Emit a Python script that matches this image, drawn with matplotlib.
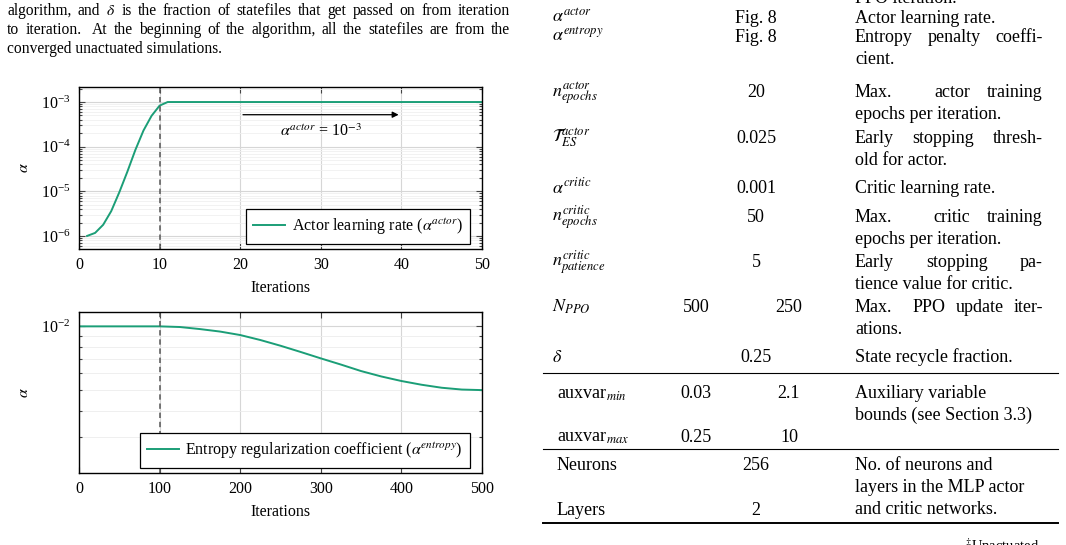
import matplotlib
matplotlib.use("Agg")
import matplotlib.pyplot as plt
from matplotlib.lines import Line2D
from matplotlib.ticker import FixedLocator, LogLocator, NullFormatter

plt.rcParams["font.family"] = "serif"
plt.rcParams["font.serif"] = ["Liberation Serif", "DejaVu Serif"]
plt.rcParams["mathtext.fontset"] = "stix"

W, H = 1066, 545
GREEN = "#1b9e77"

# actor learning rate schedule
actor_iters = [1, 2, 3, 4, 5, 6, 7, 8, 9, 10, 11, 50]
actor_lr = [1.0e-6, 1.17e-6, 1.78e-6, 3.6e-6, 9.5e-6, 2.75e-5, 8.5e-5,
            2.3e-4, 4.9e-4, 8.3e-4, 1.0e-3, 1.0e-3]

# entropy regularization coefficient schedule
entropy_iters = [0, 100, 125, 150, 175, 200, 225, 250, 275, 300, 325, 350,
                 375, 400, 425, 450, 475, 500]
entropy_coef = [1.0e-2, 1.0e-2, 9.93e-3, 9.71e-3, 9.45e-3, 9.10e-3, 8.62e-3,
                8.10e-3, 7.57e-3, 7.06e-3, 6.60e-3, 6.15e-3, 5.80e-3, 5.52e-3,
                5.30e-3, 5.13e-3, 5.03e-3, 5.0e-3]

para_lines = [
    r"algorithm, and $\delta$ is the fraction of statefiles that get passed on from iteration",
    "to iteration. At the beginning of the algorithm, all the statefiles are from the",
    "converged unactuated simulations.",
]

row_symbols = [r"$\alpha^{actor}$", r"$\alpha^{entropy}$", r"$n^{actor}_{epochs}$",
               r"$\mathcal{T}^{actor}_{ES}$", r"$\alpha^{critic}$", r"$n^{critic}_{epochs}$",
               r"$n^{critic}_{patience}$", r"$N_{PPO}$", r"$\delta$",
               r"auxvar$_{min}$", r"auxvar$_{max}$", "Neurons", "Layers"]
row_values = ["Fig. 8", "Fig. 8", "20", "0.025", "0.001", "50", "5", ("500", "250"),
              "0.25", ("0.03", "2.1"), ("0.25", "10"), "256", "2"]
row_notes = ["Actor learning rate.",
             "Entropy penalty coeffi-|cient.",
             "Max. actor training|epochs per iteration.",
             "Early stopping thresh-|old for actor.",
             "Critic learning rate.",
             "Max. critic training|epochs per iteration.",
             "Early stopping pa-|tience value for critic.",
             "Max. PPO update iter-|ations.",
             "State recycle fraction.",
             "Auxiliary variable|bounds (see Section 3.3)",
             "",
             "No. of neurons and|layers in the MLP actor|and critic networks.",
             ""]
ragged_notes = [9, 11]
row_baselines = [22.7, 41.7, 96.7, 142.7, 193.3, 221.7, 266.7, 311.7, 361.7,
                 398.3, 441.7, 470, 515]
rule_y = [373, 449, 523]

fig = plt.figure(figsize=(W / 100, H / 100), dpi=100)
renderer = fig.canvas.get_renderer()


def put_text(x0, y, s, size, x1=None, ha="left"):
    if x1 is None:
        return fig.text(x0 / W, 1 - y / H, s, fontsize=size, va="baseline", ha=ha)
    # justify like TeX: spaces after a full stop stretch three times as much
    words = s.split()
    arts = [fig.text(0, 1 - y / H, w, fontsize=size, va="baseline") for w in words]
    widths = [a.get_window_extent(renderer).width for a in arts]
    weights = [3 if w.endswith(".") else 1 for w in words[:-1]]
    natural = 0.25 * size * 100 / 72
    extra = max(x1 - x0 - sum(widths) - natural * len(weights), 0)
    x = x0
    for k, (a, w) in enumerate(zip(arts, widths)):
        a.set_x(x / W)
        if k < len(weights):
            x += w + natural + extra * weights[k] / sum(weights)


def style_axes(ax):
    ax.tick_params(which="both", direction="in", top=True, right=True,
                   color="#444444", width=0.8, labelsize=11.5)
    ax.tick_params(which="major", length=4, pad=6)
    ax.tick_params(which="minor", length=2.5)
    for s in ax.spines.values():
        s.set_linewidth(1.0)
    ax.yaxis.set_minor_formatter(NullFormatter())
    ax.set_axisbelow(True)


# top panel: actor learning rate
ax1 = fig.add_axes([79 / W, 1 - 249 / H, 403 / W, 162 / H])
ax1.plot(actor_iters, actor_lr, color=GREEN, lw=1.4, label=r"Actor learning rate ($\alpha^{actor}$)")
ax1.set_yscale("log")
ax1.set_xlim(0, 50)
ax1.set_ylim(5.1e-7, 2.17e-3)
ax1.set_xticks([0, 10, 20, 30, 40, 50])
ax1.yaxis.set_major_locator(LogLocator(base=10, numticks=10))
ax1.yaxis.set_minor_locator(LogLocator(base=10, subs=range(2, 10), numticks=20))
ax1.grid(which="major", color="#d6d6d6", lw=0.8)
ax1.grid(which="minor", axis="y", color="#f0f0f0", lw=0.6)
ax1.axvline(10, color="#555555", lw=1.1, ls=(0, (3.5, 2.5)))
ax1.annotate("", xy=(40, 5.2e-4), xytext=(20, 5.2e-4),
             arrowprops=dict(arrowstyle="-|>", color="black", lw=0.9, mutation_scale=9))
ax1.text(30, 2.17e-4, r"$\alpha^{actor}$ = 10$^{-3}$", ha="center", va="center", fontsize=11.5)
ax1.legend(loc="lower right", bbox_to_anchor=(0.970, 0.031), borderaxespad=0,
           fancybox=False, edgecolor="black", framealpha=1, fontsize=11.5,
           handlelength=2.0, handletextpad=0.4, borderpad=0.45).get_frame().set_linewidth(0.9)
ax1.set_xlabel("Iterations", fontsize=11.5)
ax1.set_ylabel(r"$\alpha$", fontsize=11.5)
ax1.xaxis.set_label_coords(0.5, -0.19)
ax1.yaxis.set_label_coords(-0.117, 0.5)
style_axes(ax1)

# bottom panel: entropy coefficient
ax2 = fig.add_axes([79 / W, 1 - 473 / H, 403 / W, 161 / H])
ax2.plot(entropy_iters, entropy_coef, color=GREEN, lw=1.4,
         label=r"Entropy regularization coefficient ($\alpha^{entropy}$)")
ax2.set_yscale("log")
ax2.set_xlim(0, 500)
ax2.set_ylim(2.03e-3, 1.169e-2)
ax2.set_xticks([0, 100, 200, 300, 400, 500])
ax2.yaxis.set_major_locator(FixedLocator([1e-2]))
ax2.yaxis.set_minor_locator(FixedLocator([3e-3, 4e-3, 5e-3, 6e-3, 7e-3, 8e-3, 9e-3]))
ax2.grid(which="major", color="#d6d6d6", lw=0.8)
ax2.grid(which="minor", axis="y", color="#ececec", lw=0.6)
ax2.axvline(100, color="#555555", lw=1.1, ls=(0, (3.5, 2.5)))
ax2.legend(loc="lower right", bbox_to_anchor=(0.970, 0.031), borderaxespad=0,
           fancybox=False, edgecolor="black", framealpha=1, fontsize=11.5,
           handlelength=2.0, handletextpad=0.4, borderpad=0.45).get_frame().set_linewidth(0.9)
ax2.set_xlabel("Iterations", fontsize=11.5)
ax2.set_ylabel(r"$\alpha$", fontsize=11.5)
ax2.xaxis.set_label_coords(0.5, -0.193)
ax2.yaxis.set_label_coords(-0.117, 0.5)
style_axes(ax2)

# paragraph above the plots
para_base = [15, 34.3, 53.3]
for i, line in enumerate(para_lines):
    put_text(7, para_base[i], line, 11.2, x1=510 if i < len(para_lines) - 1 else None)

# table on the right
TS = 13
put_text(855, 3, "PPO iteration.", TS)
for i, sym in enumerate(row_symbols):
    y = row_baselines[i]
    put_text(552 if sym.startswith("$") else 557, y, sym, TS)
    val = row_values[i]
    if isinstance(val, tuple):
        put_text(696, y, val[0], TS, ha="center")
        put_text(789, y, val[1], TS, ha="center")
    else:
        put_text(756, y, val, TS, ha="center")
    if row_notes[i]:
        lines = row_notes[i].split("|")
        for j, line in enumerate(lines):
            justify = i not in ragged_notes and j < len(lines) - 1
            put_text(855, y + j * 21.9, line, TS, x1=1043 if justify else None)

for k, y in enumerate(rule_y):
    fig.add_artist(Line2D([543 / W, 1058 / W], [1 - y / H] * 2, color="black",
                          lw=1.4 if k == len(rule_y) - 1 else 0.8))
put_text(965, 551, r"$^{\ddagger}$Unactuated", 10.5)

fig.savefig("out.png", dpi=100)
